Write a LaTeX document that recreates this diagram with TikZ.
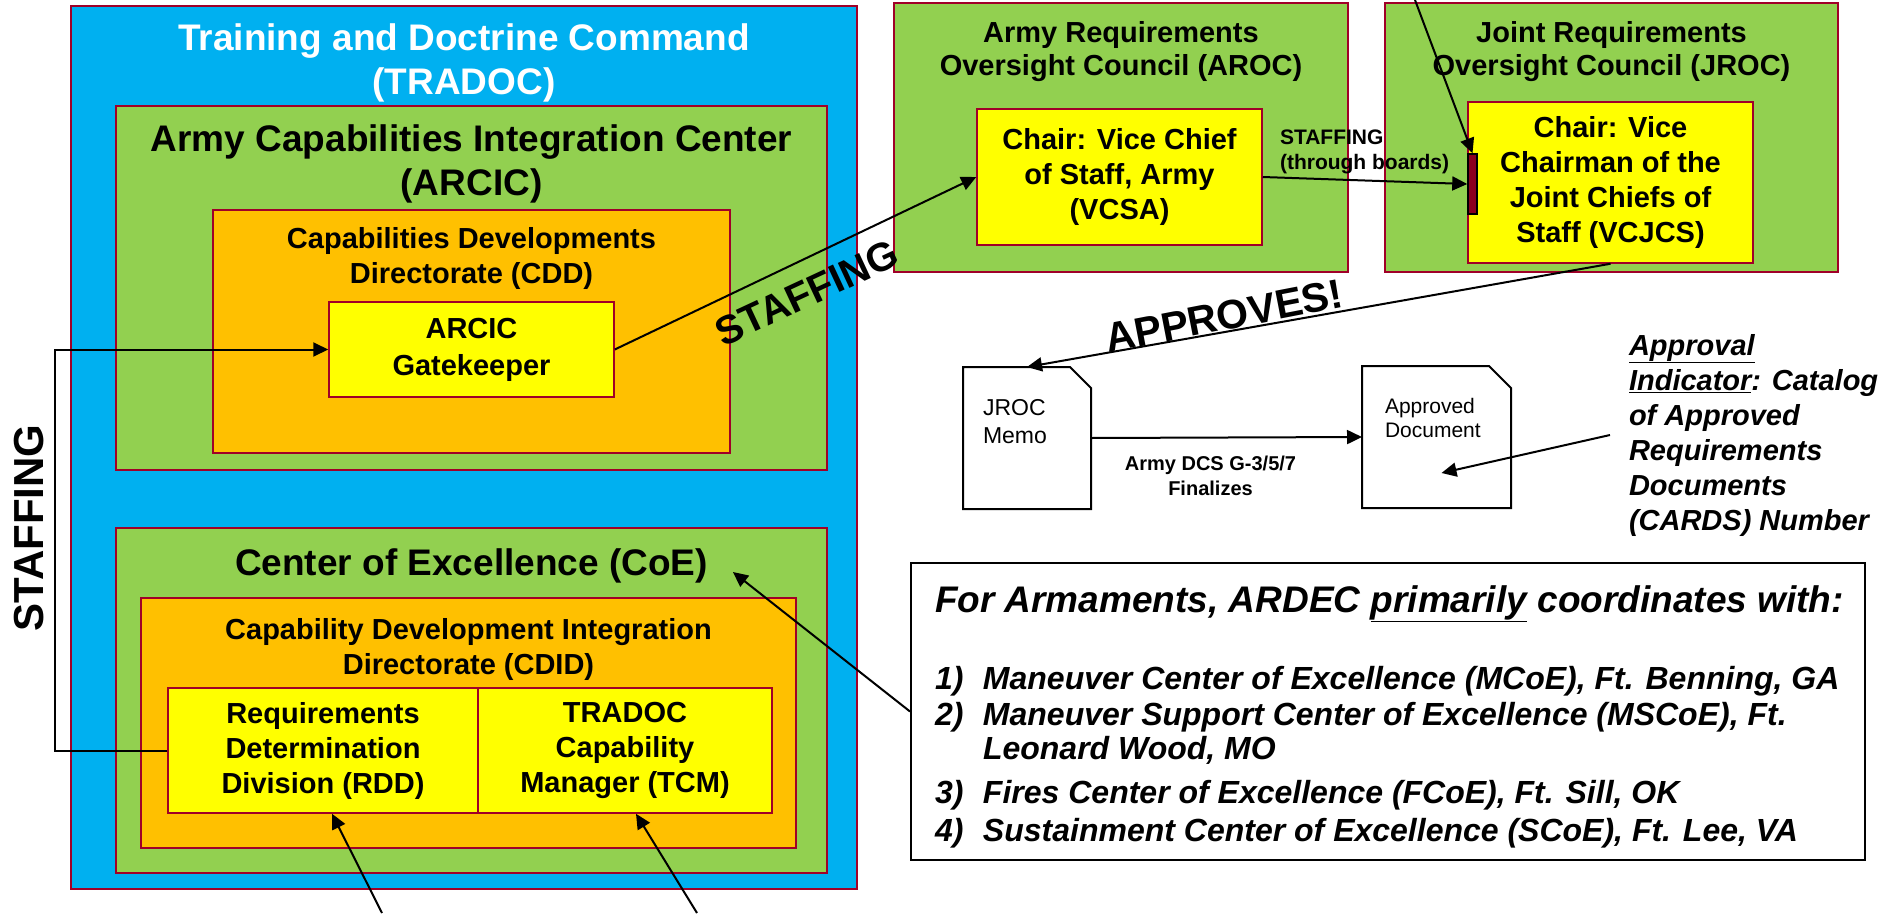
\documentclass[tikz,border=0pt]{standalone}
\usepackage{fontspec}
\setmainfont{Liberation Sans}
\usetikzlibrary{arrows.meta}
\definecolor{tradocblue}{RGB}{0,176,240}
\definecolor{boxgreen}{RGB}{146,208,80}
\definecolor{boxorange}{RGB}{255,192,0}
\definecolor{boxyellow}{RGB}{255,255,0}
\definecolor{edgered}{RGB}{160,0,40}
\definecolor{barred}{RGB}{140,0,30}
\begin{document}
\begin{tikzpicture}[x=1pt,y=-1pt,line width=2pt,>={Triangle[length=15pt,width=14pt]},
box/.style={draw=edgered,line width=1.5pt,rectangle,inner sep=0pt},
bluebox/.style={box,fill=tradocblue},
greenbox/.style={box,fill=boxgreen},
orangebox/.style={box,fill=boxorange},
yellowbox/.style={box,fill=boxyellow,align=center,font=\bfseries\fontsize{29}{35}\selectfont},
headtext/.style={align=center,inner sep=0pt,font=\bfseries\fontsize{37}{44}\selectfont},
midtext/.style={align=center,inner sep=0pt,font=\bfseries\fontsize{29}{35}\selectfont},
counciltext/.style={align=center,inner sep=0pt,font=\bfseries\fontsize{29}{33}\selectfont},
bigword/.style={inner sep=0pt,font=\bfseries\fontsize{40}{40}\selectfont},
doctext/.style={align=left,inner sep=0pt},
notetext/.style={align=left,inner sep=0pt,font=\bfseries\itshape\fontsize{29}{35}\selectfont}]
\useasboundingbox (0,0) rectangle (1882,913);

\draw (464,447.5) node[bluebox,minimum width=786pt,minimum height=883pt] (tradoc) {};
\draw (464,63) node[headtext,text=white] (tradoctitle) {Training and Doctrine Command\\(TRADOC)};
\draw (471.5,288) node[greenbox,minimum width=711pt,minimum height=364pt] (arcic) {};
\draw (471.5,164) node[headtext] (arcictitle) {Army Capabilities Integration Center\\(ARCIC)};
\draw (471.5,331.5) node[orangebox,minimum width=517pt,minimum height=243pt] (cdd) {};
\draw (471.5,258) node[midtext] (cddtitle) {Capabilities Developments\\Directorate (CDD)};
\draw (471.5,349.5) node[yellowbox,minimum width=285pt,minimum height=95pt,font=\bfseries\fontsize{29}{37}\selectfont] (gate) {ARCIC\\Gatekeeper};

\draw (471.5,700.5) node[greenbox,minimum width=711pt,minimum height=345pt] (coe) {};
\draw (471.5,566) node[headtext] (coetitle) {Center of Excellence (CoE)};
\draw (468.5,723) node[orangebox,minimum width=655pt,minimum height=250pt] (cdid) {};
\draw (468.5,649) node[midtext] (cdidtitle) {Capability Development Integration\\Directorate (CDID)};
\draw (323,750.5) node[yellowbox,minimum width=310pt,minimum height=125pt] (rdd) {Requirements\\Determination\\Division (RDD)};
\draw (625,750.5) node[yellowbox,minimum width=294pt,minimum height=125pt] (tcm) {TRADOC\\Capability\\Manager (TCM)};

\draw (1121,137.5) node[greenbox,minimum width=454pt,minimum height=269pt] (aroc) {};
\draw (1121,52) node[counciltext] (aroctitle) {Army Requirements\\Oversight Council (AROC)};
\draw (1119.5,177) node[yellowbox,minimum width=285pt,minimum height=136pt] (vcsa) {Chair: Vice Chief\\of Staff, Army\\(VCSA)};
\draw (1611.5,137.5) node[greenbox,minimum width=453pt,minimum height=269pt] (jroc) {};
\draw (1611.5,52) node[counciltext] (jroctitle) {Joint Requirements\\Oversight Council (JROC)};
\draw (1610.5,182.5) node[yellowbox,minimum width=285pt,minimum height=161pt] (vcjcs) {Chair: Vice\\Chairman of the\\Joint Chiefs of\\Staff (VCJCS)};
\draw (1472.5,184) node[draw=black,fill=barred,line width=1.5pt,minimum width=9pt,minimum height=60pt,inner sep=0pt] (redbar) {};

\draw (1027,438) node[minimum width=126pt,minimum height=140pt,inner sep=0pt] (memo) {};
\draw (memo.north west) -- ([xshift=-21pt]memo.north east) -- ([yshift=-21pt]memo.north east) -- (memo.south east) -- (memo.south west) -- cycle;
\draw (982,422) node[doctext,anchor=west,font=\fontsize{23}{28}\selectfont] (memotext) {JROC\\Memo};
\draw (1436.5,437) node[minimum width=147pt,minimum height=140pt,inner sep=0pt] (approved) {};
\draw (approved.north west) -- ([xshift=-22pt]approved.north east) -- ([yshift=-22pt]approved.north east) -- (approved.south east) -- (approved.south west) -- cycle;
\draw (1384,418) node[doctext,anchor=west,font=\fontsize{21}{24}\selectfont] (approvedtext) {Approved\\Document};
\draw (1628,435) node[notetext,anchor=west] (cardsnote) {\underline{Approval}\\\underline{Indicator}: Catalog\\of Approved\\Requirements\\Documents\\(CARDS) Number};

\draw (1388,711.5) node[draw=black,fill=white,line width=2pt,minimum width=954pt,minimum height=297pt,inner sep=0pt] (ardec) {};
\draw (934,604) node[anchor=west,inner sep=0pt,font=\bfseries\itshape\fontsize{37}{44}\selectfont] (ardectitle) {For Armaments, ARDEC \underline{primarily} coordinates with:};
\draw (934,665) node[notetext,anchor=north west,font=\bfseries\itshape\fontsize{32}{34}\selectfont] (ardeclist) {\makebox[48pt][l]{1)}Maneuver Center of Excellence (MCoE), Ft. Benning, GA\\[2pt]\makebox[48pt][l]{2)}Maneuver Support Center of Excellence (MSCoE), Ft.\\\hspace*{48pt}Leonard Wood, MO\\[10pt]\makebox[48pt][l]{3)}Fires Center of Excellence (FCoE), Ft. Sill, OK\\[4pt]\makebox[48pt][l]{4)}Sustainment Center of Excellence (SCoE), Ft. Lee, VA};

\draw[->] (rdd.west) -- ++(-112,0) |- (gate.west);
\draw (29,528) node[bigword,rotate=90,font=\bfseries\fontsize{42}{42}\selectfont] (leftstaff) {STAFFING};
\draw[->] (gate.east) -- (vcsa.west);
\draw (807,293) node[bigword,rotate=25] (midstaff) {STAFFING};
\draw[->] (vcsa.east) -- (redbar.west);
\draw (1279,152) node[doctext,anchor=west,font=\bfseries\fontsize{21}{25}\selectfont] (staffnote) {STAFFING\\(through boards)};
\coordinate (topfeed) at (1415,0);
\draw[->] (topfeed) -- (redbar.north);
\draw[->] (vcjcs.south) -- (memo.north);
\draw (1224,316) node[bigword,rotate=11,font=\bfseries\fontsize{41}{41}\selectfont] (approves) {APPROVES!};
\draw[->] (memo.east) -- (approved.west) node[midway,below=18pt,xshift=-16pt,align=center,inner sep=0pt,font=\bfseries\fontsize{20}{25}\selectfont] (finalize) {Army DCS G-3/5/7\\Finalizes};
\draw[->] ([xshift=-18pt]cardsnote.west) -- ([xshift=5pt,yshift=-36pt]approved.center);
\draw[->] (ardec.west) -- ([xshift=24pt,yshift=-6pt]coetitle.east);
\coordinate (rddfeed) at (382,913);
\coordinate (tcmfeed) at (697,913);
\draw[->] (rddfeed) -- ([xshift=9pt]rdd.south);
\draw[->] (tcmfeed) -- ([xshift=11pt]tcm.south);

\end{tikzpicture}
\end{document}
